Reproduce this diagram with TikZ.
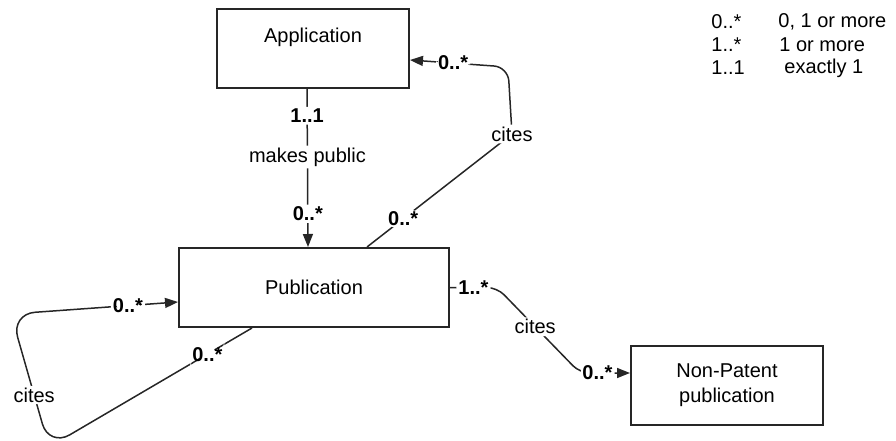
\documentclass[tikz,border=0pt]{standalone}
\usepackage{fontspec}
\setmainfont{Liberation Sans}
\usetikzlibrary{arrows.meta}

\begin{document}
\begin{tikzpicture}[x=0.5pt, y=-0.5pt, font=\fontsize{10}{11.5}\selectfont,
		entity/.style={draw=black!85, line width=1pt, inner sep=0pt, align=center, minimum width=96pt, minimum height=39.5pt},
		assoc/.style={draw=black!85, line width=0.75pt, rounded corners=5pt},
		tip/.style={-{Triangle[length=6.5pt, width=5pt]}},
		mult/.style={fill=white, inner sep=1pt, font=\fontsize{10}{11.5}\selectfont\bfseries},
		role/.style={fill=white, inner sep=1pt}]
		\useasboundingbox (0, 0) rectangle (896, 440);
		\node[entity, text depth=13.3pt] (app) at (313, 48.5) {Application};
		\node[entity, minimum width=135pt] (pub) at (314, 287.5) {Publication};
		\node[entity, font=\fontsize{10}{12.5}\selectfont] (npl) at (727, 385.5) {Non-Patent\\publication};
		\draw[assoc, tip] ([xshift=-3pt]app.south) -- node[mult, pos=0.17] {1..1} node[role, pos=0.43] {makes public} node[mult, pos=0.79] {0..*} ([xshift=-3pt]pub.north);
		\draw[assoc, tip] ([xshift=26.5pt]pub.north) -- node[mult, pos=0.25] {0..*} (512, 134) node[role] {cites} [rounded corners=7pt] -- (508, 67) -- node[mult, pos=0.56] {0..*} ([yshift=-5.75pt]app.east);
		\draw[assoc, tip, rounded corners=12pt] ([xshift=-31pt]pub.south) -- node[mult, pos=0.22] {0..*} (49, 447) -- node[role, pos=0.39] {cites} (11, 314) -- node[mult, pos=0.7] {0..*} ([yshift=-7.25pt]pub.west);
		\draw[assoc, tip] (pub.east) -- node[mult, pos=0.5] {1..*} (497, 287.5) -- node[role, pos=0.46] {cites} (580, 373) -- node[mult, pos=0.35] {0..*} ([yshift=6.25pt]npl.west);
		\foreach \m/\t/\x [count=\i] in {{0..*}/{0, 1 or more}/778, {1..*}/{1 or more}/779, {1..1}/{exactly 1}/784} {
			\node[anchor=west, inner sep=0pt] (key\i) at (711, \i*23 - 1) {\m};
			\node[anchor=west, inner sep=0pt] (mean\i) at (\x, \i*23 - 1) {\t};
		}
\end{tikzpicture}
\end{document}
